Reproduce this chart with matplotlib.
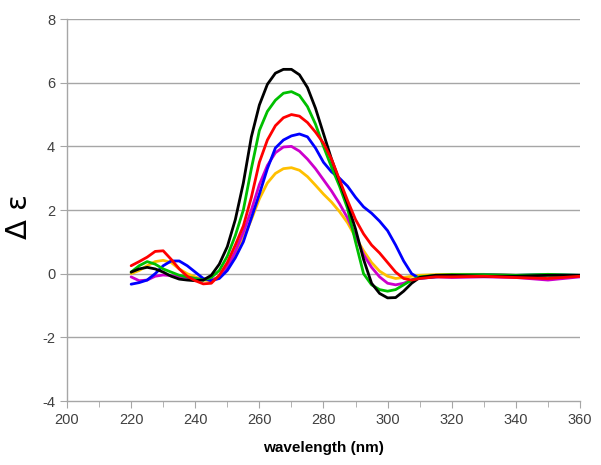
import matplotlib
matplotlib.use("Agg")
import matplotlib.pyplot as plt
from matplotlib.ticker import MultipleLocator

plt.rcParams["axes.unicode_minus"] = False

# wavelength grid (nm)
wavelength = [220, 222.5, 225, 227.5, 230, 232.5, 235, 237.5, 240, 242.5,
              245, 247.5, 250, 252.5, 255, 257.5, 260, 262.5, 265, 267.5,
              270, 272.5, 275, 277.5, 280, 282.5, 285, 287.5, 290, 292.5,
              295, 297.5, 300, 302.5, 305, 307.5, 310, 315, 320, 330,
              340, 350, 360]

black = [0.05, 0.15, 0.2, 0.15, 0.05, -0.08, -0.17, -0.2, -0.22, -0.2,
         -0.05, 0.3, 0.85, 1.7, 2.85, 4.3, 5.3, 5.95, 6.3, 6.42,
         6.42, 6.25, 5.85, 5.2, 4.4, 3.6, 2.9, 2.2, 1.4, 0.45,
         -0.3, -0.62, -0.76, -0.75, -0.55, -0.3, -0.12, -0.05, -0.05, -0.08,
         -0.08, -0.05, -0.05]

green = [0.05, 0.25, 0.38, 0.3, 0.15, 0.05, -0.05, -0.1, -0.15, -0.2,
         -0.12, 0.1, 0.55, 1.2, 2.0, 3.3, 4.5, 5.1, 5.45, 5.67,
         5.72, 5.6, 5.25, 4.7, 4.0, 3.35, 2.75, 2.05, 1.0, 0.0,
         -0.35, -0.5, -0.55, -0.5, -0.35, -0.2, -0.1, -0.05, -0.03, -0.03,
         -0.05, -0.02, -0.05]

red = [0.25, 0.38, 0.52, 0.7, 0.72, 0.45, 0.15, -0.08, -0.22, -0.32,
       -0.3, -0.05, 0.35, 0.9, 1.5, 2.4, 3.5, 4.2, 4.65, 4.9,
       5.0, 4.95, 4.75, 4.45, 4.1, 3.6, 2.95, 2.3, 1.7, 1.25,
       0.9, 0.65, 0.35, 0.05, -0.15, -0.2, -0.15, -0.1, -0.1, -0.08,
       -0.12, -0.15, -0.08]

blue = [-0.33, -0.28, -0.2, 0.0, 0.25, 0.4, 0.4, 0.25, 0.05, -0.15,
        -0.22, -0.15, 0.1, 0.5, 1.0, 1.75, 2.5, 3.3, 3.95, 4.2,
        4.33, 4.39, 4.3, 3.95, 3.5, 3.2, 3.0, 2.75, 2.4, 2.1,
        1.9, 1.65, 1.35, 0.9, 0.4, 0.0, -0.15, -0.1, -0.05, -0.03,
        -0.05, -0.03, -0.05]

magenta = [-0.1, -0.22, -0.2, -0.08, -0.04, -0.06, -0.1, -0.12, -0.15, -0.18,
           -0.2, -0.1, 0.2, 0.7, 1.3, 2.0, 2.8, 3.4, 3.8, 3.98,
           4.0, 3.85, 3.6, 3.3, 2.95, 2.6, 2.2, 1.75, 1.2, 0.6,
           0.2, -0.1, -0.3, -0.35, -0.3, -0.2, -0.12, -0.1, -0.12, -0.1,
           -0.12, -0.2, -0.1]

yellow = [0.0, 0.1, 0.25, 0.38, 0.42, 0.35, 0.15, 0.0, -0.1, -0.2,
          -0.22, -0.1, 0.2, 0.6, 1.1, 1.7, 2.35, 2.85, 3.15, 3.3,
          3.33, 3.25, 3.05, 2.78, 2.5, 2.25, 1.95, 1.6, 1.15, 0.72,
          0.35, 0.08, -0.08, -0.15, -0.12, -0.08, -0.05, -0.03, -0.02, -0.02,
          -0.05, -0.05, -0.08]

series = [
    (yellow, "#ffc000"),
    (magenta, "#cc00cc"),
    (blue, "#0000ff"),
    (green, "#00c000"),
    (black, "#000000"),
    (red, "#ff0000"),
]

fig = plt.figure(figsize=(6.01, 4.65), dpi=100)
ax = fig.add_axes([0.1115, 0.1376, 0.8535, 0.8214])

for ys, c in series:
    ax.plot(wavelength, ys, color=c, linewidth=2.0, solid_capstyle="round",
            solid_joinstyle="round")

ax.set_xlim(200, 360)
ax.set_ylim(-4, 8)
ax.xaxis.set_major_locator(MultipleLocator(20))
ax.xaxis.set_minor_locator(MultipleLocator(10))
ax.yaxis.set_major_locator(MultipleLocator(2))

for y in range(-2, 9, 2):
    ax.axhline(y, color="#a6a6a6", linewidth=1.0, zorder=0)

for s in ["top", "right"]:
    ax.spines[s].set_visible(False)
for s in ["left", "bottom"]:
    ax.spines[s].set_color("#a6a6a6")
    ax.spines[s].set_linewidth(1.0)

ax.tick_params(axis="both", which="both", direction="out", color="#a6a6a6",
               labelcolor="#404040", labelsize=10.5)
ax.tick_params(axis="both", which="major", length=5)
ax.tick_params(axis="x", which="minor", length=4)
for lbl in ax.get_xticklabels() + ax.get_yticklabels():
    lbl.set_fontfamily("Liberation Sans")

ax.set_xlabel("wavelength (nm)", fontsize=11, fontweight="bold",
              family="Liberation Sans", labelpad=10)
fig.text(0.032, 0.535, "Δ ε", rotation=90, fontsize=21, family="DejaVu Sans",
         ha="center", va="center")

fig.savefig("out.png", dpi=100)
